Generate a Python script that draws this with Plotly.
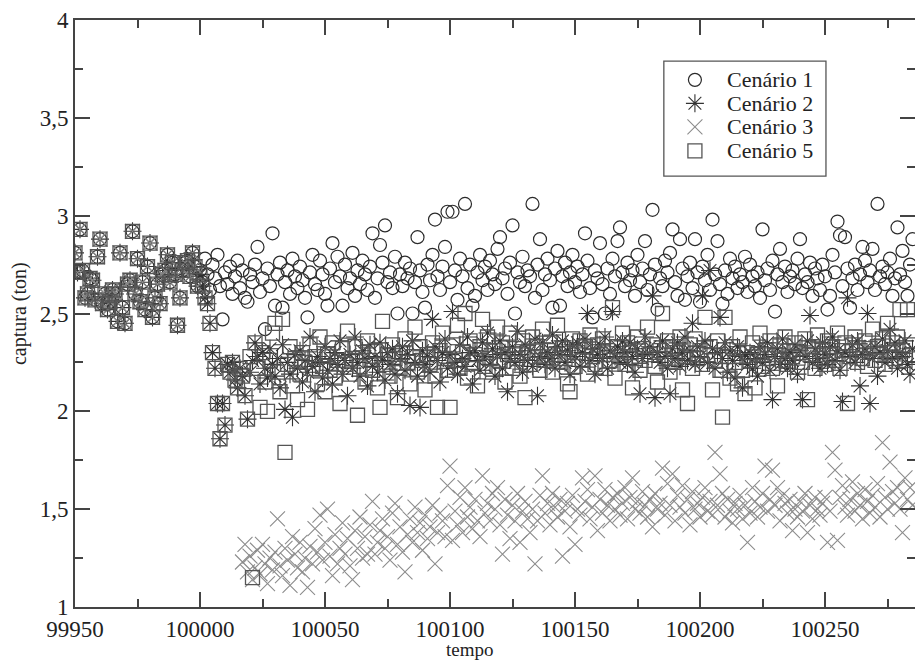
import plotly.graph_objects as go

# ---- data ----
inicio_comum = 99950
captura_comum = [2.81, 2.71, 2.93, 2.72, 2.58, 2.60, 2.68, 2.67, 2.57, 2.79,
                 2.88, 2.55, 2.60, 2.52, 2.56, 2.62, 2.60, 2.46, 2.81, 2.53,
                 2.45, 2.65, 2.67, 2.92, 2.60, 2.78, 2.56, 2.66, 2.52, 2.74,
                 2.86, 2.48, 2.58, 2.65, 2.55, 2.70, 2.72, 2.80, 2.66, 2.76,
                 2.70, 2.44, 2.58, 2.72, 2.76, 2.77, 2.69, 2.81, 2.74, 2.64]

inicio_1 = 100000
cenario1 = [2.72, 2.66, 2.78, 2.70, 2.62, 2.75, 2.68, 2.80, 2.64, 2.47,
            2.71, 2.65, 2.74, 2.60, 2.69, 2.77, 2.63, 2.72, 2.58, 2.56,
            2.70, 2.66, 2.75, 2.84, 2.61, 2.68, 2.42, 2.73, 2.64, 2.91,
            2.54, 2.70, 2.76, 2.53, 2.66, 2.72, 2.60, 2.78, 2.69, 2.63,
            2.74, 2.67, 2.58, 2.48, 2.71, 2.80, 2.65, 2.62, 2.77, 2.70,
            2.60, 2.54, 2.73, 2.86, 2.66, 2.79, 2.69, 2.54, 2.75, 2.63,
            2.68, 2.81, 2.59, 2.72, 2.65, 2.77, 2.70, 2.62, 2.74, 2.91,
            2.58, 2.68, 2.85, 2.76, 2.95, 2.66, 2.71, 2.63, 2.79, 2.50,
            2.70, 2.64, 2.76, 2.68, 2.73, 2.50, 2.66, 2.89, 2.72, 2.61,
            2.53, 2.75, 2.67, 2.80, 2.98, 2.69, 2.62, 2.74, 2.84, 3.02,
            2.66, 3.02, 2.72, 2.57, 2.78, 2.69, 3.06, 2.63, 2.75, 2.54,
            2.59, 2.71, 2.80, 2.67, 2.74, 2.62, 2.77, 2.70, 2.65, 2.83,
            2.89, 2.68, 2.73, 2.60, 2.76, 2.95, 2.50, 2.71, 2.66, 2.79,
            2.64, 2.72, 2.69, 3.06, 2.58, 2.75, 2.88, 2.62, 2.70, 2.78,
            2.67, 2.53, 2.73, 2.82, 2.54, 2.69, 2.76, 2.64, 2.71, 2.80,
            2.66, 2.74, 2.61, 2.70, 2.91, 2.77, 2.63, 2.48, 2.72, 2.68,
            2.86, 2.65, 2.50, 2.73, 2.60, 2.78, 2.69, 2.87, 2.94, 2.71,
            2.64, 2.76, 2.67, 2.72, 2.59, 2.80, 2.66, 2.73, 2.87, 2.62,
            2.70, 3.03, 2.75, 2.52, 2.68, 2.64, 2.77, 2.71, 2.81, 2.93,
            2.66, 2.59, 2.88, 2.73, 2.57, 2.69, 2.76, 2.63, 2.88, 2.71,
            2.56, 2.74, 2.67, 2.80, 2.62, 2.98, 2.70, 2.87, 2.65, 2.55,
            2.72, 2.60, 2.78, 2.68, 2.74, 2.63, 2.70, 2.66, 2.79, 2.61,
            2.75, 2.69, 2.64, 2.71, 2.58, 2.93, 2.67, 2.73, 2.62, 2.77,
            2.51, 2.70, 2.83, 2.66, 2.74, 2.61, 2.69, 2.72, 2.65, 2.78,
            2.88, 2.63, 2.70, 2.66, 2.76, 2.59, 2.73, 2.68, 2.62, 2.75,
            2.69, 2.52, 2.59, 2.80, 2.71, 2.97, 2.90, 2.64, 2.89, 2.73,
            2.53, 2.68, 2.75, 2.62, 2.70, 2.84, 2.77, 2.66, 2.72, 2.83,
            2.62, 3.06, 2.69, 2.74, 2.65, 2.71, 2.78, 2.59, 2.68, 2.94,
            2.70, 2.82, 2.66, 2.59, 2.75, 2.88]

inicio_2 = 100000
cenario2 = [2.70, 2.64, 2.58, 2.55, 2.45, 2.30, 2.22, 2.04, 1.86, 2.04,
            1.93, 2.24, 2.20, 2.25, 2.16, 2.12, 2.22, 2.18, 2.08, 1.96,
            2.20, 2.26, 2.35, 2.28, 2.14, 2.30, 2.22, 2.17, 2.32, 2.24,
            2.18, 2.27, 2.12, 2.34, 2.01, 2.25, 2.19, 1.97, 2.29, 2.22,
            2.31, 2.15, 2.26, 2.20, 2.38, 2.23, 2.10, 2.28, 2.25, 2.17,
            2.33, 2.21, 2.27, 2.14, 2.30, 2.24, 2.36, 2.19, 2.26, 2.08,
            2.29, 2.22, 2.38, 2.25, 2.18, 2.31, 2.27, 2.13, 2.34, 2.23,
            2.28, 2.20, 2.35, 2.26, 2.16, 2.30, 2.24, 2.32, 2.19, 2.09,
            2.27, 2.33, 2.21, 2.29, 2.03, 2.36, 2.25, 2.18, 2.02, 2.31,
            2.24, 2.28, 2.20, 2.47, 2.33, 2.26, 2.15, 2.30, 2.37, 2.22,
            2.29, 2.51, 2.25, 2.19, 2.34, 2.27, 2.23, 2.38, 2.30, 2.14,
            2.31, 2.26, 2.21, 2.35, 2.28, 2.40, 2.24, 2.32, 2.18, 2.29,
            2.36, 2.22, 2.30, 2.10, 2.27, 2.33, 2.25, 2.41, 2.29, 2.20,
            2.34, 2.26, 2.31, 2.23, 2.37, 2.08, 2.28, 2.35, 2.24, 2.30,
            2.27, 2.39, 2.22, 2.33, 2.29, 2.36, 2.25, 2.31, 2.19, 2.34,
            2.28, 2.35, 2.23, 2.30, 2.37, 2.50, 2.26, 2.32, 2.19, 2.29,
            2.34, 2.27, 2.38, 2.22, 2.31, 2.51, 2.28, 2.33, 2.25, 2.36,
            2.30, 2.24, 2.35, 2.28, 2.20, 2.32, 2.09, 2.27, 2.38, 2.29,
            2.33, 2.59, 2.07, 2.30, 2.25, 2.36, 2.28, 2.22, 2.09, 2.32,
            2.27, 2.35, 2.23, 2.30, 2.38, 2.26, 2.31, 2.45, 2.24, 2.33,
            2.28, 2.59, 2.36, 2.25, 2.72, 2.32, 2.22, 2.30, 2.48, 2.27,
            2.35, 2.20, 2.31, 2.26, 2.17, 2.33, 2.28, 2.12, 2.29, 2.24,
            2.30, 2.22, 2.27, 2.18, 2.33, 2.25, 2.29, 2.35, 2.21, 2.06,
            2.28, 2.32, 2.24, 2.37, 2.27, 2.22, 2.30, 2.26, 2.34, 2.19,
            2.31, 2.06, 2.28, 2.36, 2.49, 2.25, 2.32, 2.27, 2.22, 2.35,
            2.29, 2.24, 2.33, 2.38, 2.26, 2.31, 2.21, 2.05, 2.30, 2.58,
            2.28, 2.34, 2.25, 2.36, 2.13, 2.29, 2.32, 2.50, 2.04, 2.27,
            2.33, 2.18, 2.30, 2.37, 2.25, 2.31, 2.42, 2.27, 2.35, 2.22,
            2.30, 2.28, 2.36, 2.24, 2.19, 2.32]

inicio_3 = 100017
cenario3 = [1.23, 1.32, 1.18,
            1.26, 1.14, 1.20, 1.29, 1.17, 1.32, 1.22, 1.12, 1.25, 1.19,
            1.28, 1.45, 1.21, 1.16, 1.30, 1.24, 1.11, 1.36, 1.27, 1.20,
            1.33, 1.18, 1.25, 1.10, 1.31, 1.22, 1.40, 1.28, 1.47, 1.24,
            1.33, 1.50, 1.26, 1.16, 1.37, 1.22, 1.30, 1.43, 1.27, 1.35,
            1.21, 1.14, 1.39, 1.30, 1.46, 1.25, 1.36, 1.27, 1.42, 1.54,
            1.27, 1.33, 1.39, 1.45, 1.30, 1.36, 1.24, 1.48, 1.53, 1.32,
            1.41, 1.28, 1.18, 1.37, 1.45, 1.33, 1.51, 1.38, 1.43, 1.29,
            1.47, 1.35, 1.41, 1.52, 1.22, 1.38, 1.48, 1.44, 1.36, 1.62,
            1.72, 1.34, 1.49, 1.42, 1.56, 1.38, 1.61, 1.46, 1.51, 1.40,
            1.55, 1.44, 1.36, 1.67, 1.48, 1.53, 1.44, 1.58, 1.50, 1.61,
            1.42, 1.27, 1.55, 1.47, 1.35, 1.52, 1.44, 1.58, 1.33, 1.49,
            1.54, 1.45, 1.38, 1.50, 1.22, 1.44, 1.57, 1.67, 1.48, 1.53,
            1.42, 1.58, 1.51, 1.46, 1.55, 1.26, 1.49, 1.53, 1.41, 1.57,
            1.32, 1.50, 1.47, 1.66, 1.54, 1.60, 1.45, 1.51, 1.67, 1.39,
            1.55, 1.48, 1.60, 1.52, 1.44, 1.56, 1.50, 1.58, 1.47, 1.53,
            1.61, 1.45, 1.56, 1.66, 1.50, 1.54, 1.48, 1.59, 1.52, 1.46,
            1.55, 1.41, 1.58, 1.50, 1.53, 1.71, 1.47, 1.63, 1.52, 1.68,
            1.44, 1.57, 1.51, 1.62, 1.48, 1.55, 1.42, 1.59, 1.50, 1.53,
            1.46, 1.56, 1.61, 1.49, 1.54, 1.47, 1.79, 1.52, 1.68, 1.58,
            1.46, 1.55, 1.49, 1.43, 1.53, 1.50, 1.57, 1.45, 1.52, 1.33,
            1.48, 1.61, 1.54, 1.46, 1.51, 1.58, 1.72, 1.49, 1.55, 1.70,
            1.52, 1.61, 1.44, 1.57, 1.53, 1.48, 1.55, 1.39, 1.50, 1.46,
            1.54, 1.49, 1.58, 1.38, 1.52, 1.45, 1.56, 1.50, 1.47, 1.53,
            1.56, 1.33, 1.49, 1.79, 1.70, 1.34, 1.56, 1.62, 1.51, 1.47,
            1.55, 1.64, 1.49, 1.58, 1.52, 1.45, 1.60, 1.54, 1.48, 1.57,
            1.51, 1.63, 1.46, 1.84, 1.56, 1.50, 1.74, 1.59, 1.53, 1.61,
            1.50, 1.38, 1.66, 1.55, 1.61, 1.52]

inicio_5 = 100000
cenario5 = [2.70, 2.64, 2.58, 2.55, 2.45, 2.30, 2.22, 2.04, 1.86, 2.04,
            1.93, 2.24, 2.20, 2.25, 2.16, 2.12, 2.22, 2.18, 2.08, 1.96,
            2.28, 1.15, 2.35, 2.22, 2.02, 2.30, 2.15, 2.00, 2.26, 2.40,
            2.45, 2.20, 2.10, 2.47, 1.79, 2.24, 2.33, 2.13, 2.27, 2.06,
            2.19, 2.30, 2.25, 2.01, 2.34, 2.22, 2.28, 2.14, 2.38, 2.23,
            2.10, 2.29, 2.21, 2.35, 2.17, 2.26, 2.04, 2.32, 2.24, 2.41,
            2.19, 2.27, 2.33, 1.98, 2.23, 2.30, 2.15, 2.36, 2.26, 2.21,
            2.31, 2.12, 2.02, 2.46, 2.24, 2.29, 2.18, 2.34, 2.27, 2.07,
            2.22, 2.30, 2.37, 2.25, 2.14, 2.28, 2.43, 2.20, 2.33, 2.26,
            2.11, 2.29, 2.24, 2.35, 2.18, 2.02, 2.31, 2.40, 2.27, 2.21,
            2.02, 2.34, 2.26, 2.44, 2.22, 2.30, 2.50, 2.17, 2.36, 2.25,
            2.29, 2.13, 2.33, 2.47, 2.23, 2.38, 2.27, 2.20, 2.31, 2.43,
            2.26, 2.35, 2.15, 2.29, 2.40, 2.22, 2.32, 2.27, 2.18, 2.36,
            2.07, 2.30, 2.24, 2.38, 2.28, 2.33, 2.21, 2.42, 2.26, 2.31,
            2.35, 2.20, 2.29, 2.44, 2.25, 2.32, 2.27, 2.14, 2.10, 2.37,
            2.23, 2.30, 2.36, 2.26, 2.33, 2.19, 2.39, 2.28, 2.24, 2.34,
            2.29, 2.37, 2.22, 2.31, 2.26, 2.53, 2.17, 2.33, 2.28, 2.40,
            2.24, 2.35, 2.30, 2.12, 2.27, 2.38, 2.21, 2.32, 2.26, 2.43,
            2.29, 2.34, 2.23, 2.15, 2.31, 2.50, 2.27, 2.36, 2.20, 2.33,
            2.25, 2.30, 2.38, 2.11, 2.28, 2.04, 2.34, 2.22, 2.37, 2.27,
            2.31, 2.24, 2.48, 2.29, 2.33, 2.11, 2.26, 2.36, 2.21, 1.97,
            2.48, 2.28, 2.17, 2.33, 2.25, 2.14, 2.38, 2.21, 2.09, 2.30,
            2.26, 2.35, 2.12, 2.29, 2.40, 2.23, 2.31, 2.27, 2.36, 2.22,
            2.29, 2.13, 2.34, 2.26, 2.38, 2.24, 2.31, 2.28, 2.35, 2.20,
            2.30, 2.25, 2.37, 2.06, 2.29, 2.33, 2.22, 2.39, 2.27, 2.31,
            2.24, 2.36, 2.29, 2.33, 2.26, 2.40, 2.22, 2.31, 2.35, 2.04,
            2.28, 2.34, 2.38, 2.25, 2.31, 2.27, 2.36, 2.23, 2.32, 2.42,
            2.26, 2.33, 2.29, 2.37, 2.24, 2.45, 2.30, 2.35, 2.27, 2.38,
            2.52, 2.31, 2.26, 2.52, 2.34, 2.29]

nomes = ["Cenário 1", "Cenário 2", "Cenário 3", "Cenário 5"]
x_ticks = [99950, 100000, 100050, 100100, 100150, 100200, 100250]
x_ticktext = ["99950", "100000", "100050", "100100", "100150", "100200", "100250"]
y_ticks = [1, 1.5, 2, 2.5, 3, 3.5, 4]
y_ticktext = ["1", "1,5", "2", "2,5", "3", "3,5", "4"]

# ---- build ----
tempo_comum = list(range(inicio_comum, inicio_comum + len(captura_comum)))


def serie(inicio, valores):
    return tempo_comum + list(range(inicio, inicio + len(valores))), captura_comum + valores


FONT = "Liberation Serif, Times New Roman, Times, serif"
estilos = [
    dict(symbol="circle-open", size=13, color="#2b2b2b", line=dict(width=1.2, color="#2b2b2b")),
    dict(symbol="asterisk-open", size=15, color="#333333", line=dict(width=1.1, color="#333333")),
    dict(symbol="x-thin-open", size=15, color="#8c8c8c", line=dict(width=1.1, color="#8c8c8c")),
    dict(symbol="square-open", size=14, color="#555555", line=dict(width=1.3, color="#555555")),
]
dados = [(inicio_1, cenario1), (inicio_2, cenario2), (inicio_3, cenario3), (inicio_5, cenario5)]

fig = go.Figure()
for nome, (ini, vals), est in zip(nomes, dados, estilos):
    xs, ys = serie(ini, vals)
    fig.add_trace(go.Scatter(x=xs, y=ys, mode="markers", name=nome, marker=est,
                             cliponaxis=True, showlegend=False))

# custom legend (box + markers + labels) placed in paper-like overlay axes
leg_x0, leg_x1, leg_y0, leg_y1 = 0.701, 0.894, 0.734, 0.930
leg_rows = [0.898, 0.858, 0.818, 0.777]
leg_mx, leg_tx = 0.738, 0.774
for nome, est, yy in zip(nomes, estilos, leg_rows):
    fig.add_trace(go.Scatter(x=[leg_mx], y=[yy], mode="markers", marker=est,
                             xaxis="x2", yaxis="y2", showlegend=False, hoverinfo="skip"))

axis_common = dict(
    showgrid=False, zeroline=False, showline=True, linecolor="#444444", linewidth=1.8,
    mirror="ticks", ticks="inside", tickcolor="#444444", tickwidth=1.5, ticklen=15,
    automargin=False,
)
fig.update_xaxes(range=[99950, 100286], tickvals=x_ticks, ticktext=x_ticktext,
                 tickfont=dict(family=FONT, size=23, color="#222222"),
                 minor=dict(ticks="inside", ticklen=8, tickcolor="#444444", tickwidth=1.5, dtick=25),
                 **axis_common)
fig.update_yaxes(range=[1, 4], tickvals=y_ticks, ticktext=y_ticktext,
                 tickfont=dict(family=FONT, size=23, color="#222222"),
                 minor=dict(ticks="inside", ticklen=8, tickcolor="#444444", tickwidth=1.5, dtick=0.25),
                 **axis_common)

annots = [
    dict(text="tempo", xref="paper", yref="paper", x=0.47, y=-0.0945,
         xanchor="center", yanchor="bottom", showarrow=False,
         font=dict(family=FONT, size=19, color="#222222")),
    dict(text="captura (ton)", xref="paper", yref="paper", x=-0.066, y=0.5,
         textangle=-90, xanchor="center", yanchor="middle", showarrow=False,
         font=dict(family=FONT, size=20, color="#222222")),
]
for nome, yy in zip(nomes, leg_rows):
    annots.append(dict(text=nome, xref="paper", yref="paper", x=leg_tx, y=yy,
                       xanchor="left", yanchor="middle", showarrow=False,
                       font=dict(family=FONT, size=22, color="#222222")))

fig.update_layout(
    width=915, height=664,
    margin=dict(l=75, r=0, t=20, b=57),
    paper_bgcolor="white", plot_bgcolor="white",
    font=dict(family=FONT, color="#222222"),
    showlegend=False,
    xaxis2=dict(overlaying="x", range=[0, 1], visible=False, fixedrange=True),
    yaxis2=dict(overlaying="y", range=[0, 1], visible=False, fixedrange=True),
    shapes=[dict(type="rect", xref="paper", yref="paper", x0=leg_x0, x1=leg_x1,
                 y0=leg_y0, y1=leg_y1, line=dict(color="#555555", width=1.3),
                 fillcolor="white", layer="below")],
    annotations=annots,
)

fig.write_html("out.html")
